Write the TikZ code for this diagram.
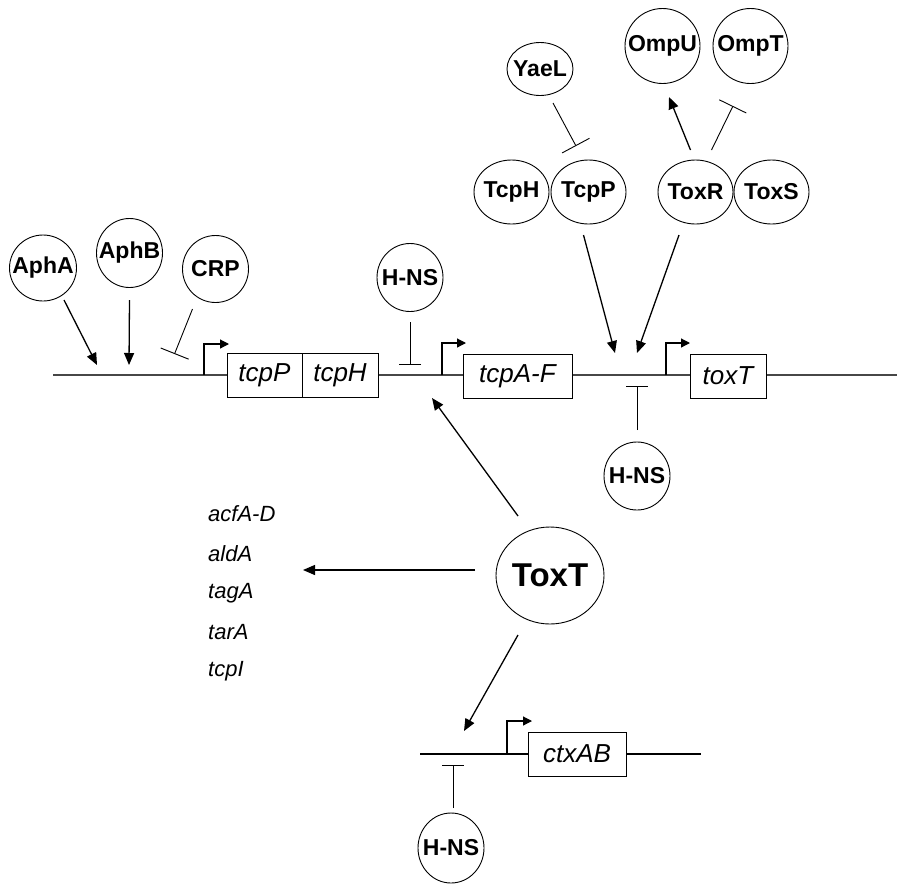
\documentclass[tikz,border=0pt]{standalone}
\usepackage{fontspec}
\setmainfont{Liberation Sans}
\usetikzlibrary{shapes.geometric,arrows.meta,calc}
\newcommand{\zw}[1]{\makebox[0pt]{#1}}
\tikzset{
  prot/.style={draw, ellipse, inner sep=0pt, line width=0.9pt,
    font=\fontsize{23}{23}\selectfont\bfseries},
  genebox/.style={draw, rectangle, fill=white, inner sep=0pt, line width=1pt,
    minimum height=44pt, font=\fontsize{26}{26}\selectfont\itshape},
  genetxt/.style={anchor=west, inner sep=0pt, font=\fontsize{22}{22}\selectfont\itshape},
  act/.style={line width=1.3pt, -{Triangle[length=12pt,width=10pt]}},
  inh/.style={line width=0.9pt, -{Bar[width=#1]}},
  inh/.default=22pt,
  prom/.style={line width=1.2pt, -{Triangle[length=9pt,width=9pt]}},
  dna/.style={line width=1.5pt, draw=black!72},
  dnathin/.style={line width=1.1pt, draw=black},
}
\begin{document}
\begin{tikzpicture}[x=1pt,y=-1pt]
\useasboundingbox (0,0) rectangle (897,884);

% main DNA line
\coordinate (m0) at (53,375);
\coordinate (m1) at (897,375);
\draw[dna] (m0) -- (m1);

% promoters on main line
\coordinate (p1a) at (204,375); \coordinate (p1b) at (204,344); \coordinate (p1c) at (229,344);
\coordinate (p2a) at (442,375); \coordinate (p2b) at (442,343); \coordinate (p2c) at (466,343);
\coordinate (p3a) at (666,375); \coordinate (p3b) at (666,343); \coordinate (p3c) at (690,343);
\draw[prom] (p1a) -- (p1b) -- (p1c);
\draw[prom] (p2a) -- (p2b) -- (p2c);
\draw[prom] (p3a) -- (p3b) -- (p3c);

% gene boxes
\node[genebox, minimum width=75pt] (gtcpP) at (264.5,375.5) {\zw{tcpP}};
\node[genebox, minimum width=76pt] (gtcpH) at (340,375.5) {\zw{tcpH}};
\node[genebox, minimum width=109pt] (gtcpA) at (517.5,376) {\zw{tcpA-F}};
\node[genebox, minimum width=76pt] (gtoxT) at (728,376) {\zw{toxT}};

% proteins, upper left
\node[prot, minimum width=67pt, minimum height=66pt] (aphA) at (43,268) {\zw{AphA}};
\node[prot, minimum width=66pt, minimum height=69pt] (aphB) at (129.5,253) {\zw{AphB}};
\node[prot, minimum width=66pt, minimum height=67pt] (crp) at (215.5,269) {\zw{CRP}};
\node[prot, minimum width=66pt, minimum height=68pt] (hns1) at (410,277.5) {\zw{H-NS}};

% proteins, upper right
\node[prot, minimum width=66pt, minimum height=53pt] (yaeL) at (540,69) {\zw{YaeL}};
\node[prot, minimum width=75pt, minimum height=75pt] (ompU) at (662.5,46) {\zw{OmpU}};
\node[prot, minimum width=75pt, minimum height=75pt] (ompT) at (750.5,46) {\zw{OmpT}};
\node[prot, minimum width=75pt, minimum height=64pt] (tcpH) at (511.5,192) {\zw{TcpH}};
\node[prot, minimum width=75pt, minimum height=64pt] (tcpP) at (588.5,192) {\zw{TcpP}};
\node[prot, minimum width=75pt, minimum height=64pt] (toxR) at (695.5,192) {\zw{ToxR}};
\node[prot, minimum width=75pt, minimum height=64pt] (toxS) at (771.5,192) {\zw{ToxS}};
\node[prot, minimum width=66pt, minimum height=68pt] (hns2) at (637,476) {\zw{H-NS}};

% ToxT
\node[prot, minimum width=108pt, minimum height=97pt,
  font=\fontsize{33}{33}\selectfont\bfseries] (toxT) at (550,575.5) {\zw{ToxT}};

% gene list
\node[genetxt] (l1) at (208,514) {acfA-D};
\node[genetxt] (l2) at (208,554) {aldA};
\node[genetxt] (l3) at (208,593) {tagA};
\node[genetxt] (l4) at (208,632) {tarA};
\node[genetxt] (l5) at (208,671) {tcpI};

% lower DNA (ctxAB)
\coordinate (b0) at (420,754);
\coordinate (b1) at (701,754);
\draw[dnathin] (b0) -- (b1);
\coordinate (p4a) at (507,754); \coordinate (p4b) at (507,721); \coordinate (p4c) at (532,721);
\draw[prom] (p4a) -- (p4b) -- (p4c);
\node[genebox, minimum width=98pt] (gctx) at (577,754) {\zw{ctxAB}};
\node[prot, minimum width=66pt, minimum height=70pt] (hns3) at (451,848) {\zw{H-NS}};

% targets
\coordinate (tA) at (97,365);
\coordinate (tB) at (129,365);
\coordinate (tC) at (174.5,354);
\coordinate (tH1) at (410,365);
\coordinate (tY) at (576,146);
\coordinate (tU) at (669,97);
\coordinate (tT) at (733,106);
\coordinate (tP) at (615,353);
\coordinate (tR) at (637,353);
\coordinate (tH2) at (637,386);
\coordinate (tX1) at (432,398);
\coordinate (tL) at (303,570);
\coordinate (tX2) at (464,731);
\coordinate (tH3) at (453,765);

% connectors
\draw[act] ($(aphA)+(21,32)$) -- (tA);
\draw[act] ($(aphB)+(0,47)$) -- (tB);
\draw[inh=30pt] ($(crp)+(-23,40)$) -- (tC);
\draw[inh] ($(hns1)+(0,44.5)$) -- (tH1);
\draw[inh=31pt] ($(yaeL)+(13,34)$) -- (tY);
\draw[act] ($(toxR)+(-5,-42)$) -- (tU);
\draw[inh=30pt] ($(toxR)+(16,-42)$) -- (tT);
\draw[act] ($(tcpP)+(-5,43)$) -- (tP);
\draw[act] ($(toxR)+(-16.5,43)$) -- (tR);
\draw[inh] ($(hns2)+(0,-46)$) -- (tH2);
\draw[act] ($(toxT)+(-32,-59.5)$) -- (tX1);
\draw[act] ($(toxT)+(-75,-5.5)$) -- (tL);
\draw[act] ($(toxT)+(-32,59.5)$) -- (tX2);
\draw[inh] ($(hns3)+(2,-40)$) -- (tH3);
\end{tikzpicture}
\end{document}
